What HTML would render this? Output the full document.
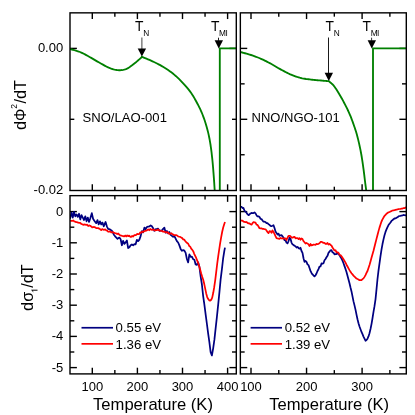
<!DOCTYPE html>
<html><head><meta charset="utf-8"><title>chart</title>
<style>
html,body{margin:0;padding:0;background:#fff;}
svg{display:block;will-change:transform;font-family:"Liberation Sans",sans-serif;fill:#000;}
</style></head><body>
<svg width="415" height="415" viewBox="0 0 415 415">
<rect x="0" y="0" width="415" height="415" fill="#fff"/>
<defs>
<clipPath id="cTL"><rect x="70.0" y="12.85" width="166.3" height="177.65"/></clipPath>
<clipPath id="cTR"><rect x="240.35" y="12.85" width="165.95000000000002" height="177.65"/></clipPath>
<clipPath id="cBL"><rect x="70.0" y="195.65" width="166.3" height="178.24999999999997"/></clipPath>
<clipPath id="cBR"><rect x="240.35" y="195.65" width="165.95000000000002" height="178.24999999999997"/></clipPath>
</defs>
<line x1="92.30" y1="12.85" x2="92.30" y2="19.05" stroke="#000" stroke-width="1.4"/>
<line x1="92.30" y1="190.50" x2="92.30" y2="184.30" stroke="#000" stroke-width="1.4"/>
<line x1="137.40" y1="12.85" x2="137.40" y2="19.05" stroke="#000" stroke-width="1.4"/>
<line x1="137.40" y1="190.50" x2="137.40" y2="184.30" stroke="#000" stroke-width="1.4"/>
<line x1="182.50" y1="12.85" x2="182.50" y2="19.05" stroke="#000" stroke-width="1.4"/>
<line x1="182.50" y1="190.50" x2="182.50" y2="184.30" stroke="#000" stroke-width="1.4"/>
<line x1="227.60" y1="12.85" x2="227.60" y2="19.05" stroke="#000" stroke-width="1.4"/>
<line x1="227.60" y1="190.50" x2="227.60" y2="184.30" stroke="#000" stroke-width="1.4"/>
<line x1="114.85" y1="12.85" x2="114.85" y2="16.65" stroke="#000" stroke-width="1.4"/>
<line x1="114.85" y1="190.50" x2="114.85" y2="186.70" stroke="#000" stroke-width="1.4"/>
<line x1="159.95" y1="12.85" x2="159.95" y2="16.65" stroke="#000" stroke-width="1.4"/>
<line x1="159.95" y1="190.50" x2="159.95" y2="186.70" stroke="#000" stroke-width="1.4"/>
<line x1="205.05" y1="12.85" x2="205.05" y2="16.65" stroke="#000" stroke-width="1.4"/>
<line x1="205.05" y1="190.50" x2="205.05" y2="186.70" stroke="#000" stroke-width="1.4"/>
<line x1="92.30" y1="195.65" x2="92.30" y2="201.85" stroke="#000" stroke-width="1.4"/>
<line x1="92.30" y1="373.90" x2="92.30" y2="367.70" stroke="#000" stroke-width="1.4"/>
<line x1="137.40" y1="195.65" x2="137.40" y2="201.85" stroke="#000" stroke-width="1.4"/>
<line x1="137.40" y1="373.90" x2="137.40" y2="367.70" stroke="#000" stroke-width="1.4"/>
<line x1="182.50" y1="195.65" x2="182.50" y2="201.85" stroke="#000" stroke-width="1.4"/>
<line x1="182.50" y1="373.90" x2="182.50" y2="367.70" stroke="#000" stroke-width="1.4"/>
<line x1="227.60" y1="195.65" x2="227.60" y2="201.85" stroke="#000" stroke-width="1.4"/>
<line x1="227.60" y1="373.90" x2="227.60" y2="367.70" stroke="#000" stroke-width="1.4"/>
<line x1="114.85" y1="195.65" x2="114.85" y2="199.45" stroke="#000" stroke-width="1.4"/>
<line x1="114.85" y1="373.90" x2="114.85" y2="370.10" stroke="#000" stroke-width="1.4"/>
<line x1="159.95" y1="195.65" x2="159.95" y2="199.45" stroke="#000" stroke-width="1.4"/>
<line x1="159.95" y1="373.90" x2="159.95" y2="370.10" stroke="#000" stroke-width="1.4"/>
<line x1="205.05" y1="195.65" x2="205.05" y2="199.45" stroke="#000" stroke-width="1.4"/>
<line x1="205.05" y1="373.90" x2="205.05" y2="370.10" stroke="#000" stroke-width="1.4"/>
<line x1="251.00" y1="12.85" x2="251.00" y2="19.05" stroke="#000" stroke-width="1.4"/>
<line x1="251.00" y1="190.50" x2="251.00" y2="184.30" stroke="#000" stroke-width="1.4"/>
<line x1="306.55" y1="12.85" x2="306.55" y2="19.05" stroke="#000" stroke-width="1.4"/>
<line x1="306.55" y1="190.50" x2="306.55" y2="184.30" stroke="#000" stroke-width="1.4"/>
<line x1="362.10" y1="12.85" x2="362.10" y2="19.05" stroke="#000" stroke-width="1.4"/>
<line x1="362.10" y1="190.50" x2="362.10" y2="184.30" stroke="#000" stroke-width="1.4"/>
<line x1="278.77" y1="12.85" x2="278.77" y2="16.65" stroke="#000" stroke-width="1.4"/>
<line x1="278.77" y1="190.50" x2="278.77" y2="186.70" stroke="#000" stroke-width="1.4"/>
<line x1="334.32" y1="12.85" x2="334.32" y2="16.65" stroke="#000" stroke-width="1.4"/>
<line x1="334.32" y1="190.50" x2="334.32" y2="186.70" stroke="#000" stroke-width="1.4"/>
<line x1="389.88" y1="12.85" x2="389.88" y2="16.65" stroke="#000" stroke-width="1.4"/>
<line x1="389.88" y1="190.50" x2="389.88" y2="186.70" stroke="#000" stroke-width="1.4"/>
<line x1="251.00" y1="195.65" x2="251.00" y2="201.85" stroke="#000" stroke-width="1.4"/>
<line x1="251.00" y1="373.90" x2="251.00" y2="367.70" stroke="#000" stroke-width="1.4"/>
<line x1="306.55" y1="195.65" x2="306.55" y2="201.85" stroke="#000" stroke-width="1.4"/>
<line x1="306.55" y1="373.90" x2="306.55" y2="367.70" stroke="#000" stroke-width="1.4"/>
<line x1="362.10" y1="195.65" x2="362.10" y2="201.85" stroke="#000" stroke-width="1.4"/>
<line x1="362.10" y1="373.90" x2="362.10" y2="367.70" stroke="#000" stroke-width="1.4"/>
<line x1="278.77" y1="195.65" x2="278.77" y2="199.45" stroke="#000" stroke-width="1.4"/>
<line x1="278.77" y1="373.90" x2="278.77" y2="370.10" stroke="#000" stroke-width="1.4"/>
<line x1="334.32" y1="195.65" x2="334.32" y2="199.45" stroke="#000" stroke-width="1.4"/>
<line x1="334.32" y1="373.90" x2="334.32" y2="370.10" stroke="#000" stroke-width="1.4"/>
<line x1="389.88" y1="195.65" x2="389.88" y2="199.45" stroke="#000" stroke-width="1.4"/>
<line x1="389.88" y1="373.90" x2="389.88" y2="370.10" stroke="#000" stroke-width="1.4"/>
<line x1="70.00" y1="48.40" x2="76.90" y2="48.40" stroke="#000" stroke-width="1.4"/>
<line x1="236.30" y1="48.40" x2="229.40" y2="48.40" stroke="#000" stroke-width="1.4"/>
<line x1="70.00" y1="119.30" x2="74.30" y2="119.30" stroke="#000" stroke-width="1.4"/>
<line x1="236.30" y1="119.30" x2="232.00" y2="119.30" stroke="#000" stroke-width="1.4"/>
<line x1="240.35" y1="48.40" x2="247.25" y2="48.40" stroke="#000" stroke-width="1.4"/>
<line x1="406.30" y1="48.40" x2="399.40" y2="48.40" stroke="#000" stroke-width="1.4"/>
<line x1="240.35" y1="119.30" x2="247.25" y2="119.30" stroke="#000" stroke-width="1.4"/>
<line x1="406.30" y1="119.30" x2="399.40" y2="119.30" stroke="#000" stroke-width="1.4"/>
<line x1="240.35" y1="83.85" x2="244.65" y2="83.85" stroke="#000" stroke-width="1.4"/>
<line x1="406.30" y1="83.85" x2="402.00" y2="83.85" stroke="#000" stroke-width="1.4"/>
<line x1="240.35" y1="154.75" x2="244.65" y2="154.75" stroke="#000" stroke-width="1.4"/>
<line x1="406.30" y1="154.75" x2="402.00" y2="154.75" stroke="#000" stroke-width="1.4"/>
<line x1="70.00" y1="211.60" x2="76.90" y2="211.60" stroke="#000" stroke-width="1.4"/>
<line x1="236.30" y1="211.60" x2="229.40" y2="211.60" stroke="#000" stroke-width="1.4"/>
<line x1="70.00" y1="242.80" x2="76.90" y2="242.80" stroke="#000" stroke-width="1.4"/>
<line x1="236.30" y1="242.80" x2="229.40" y2="242.80" stroke="#000" stroke-width="1.4"/>
<line x1="70.00" y1="274.00" x2="76.90" y2="274.00" stroke="#000" stroke-width="1.4"/>
<line x1="236.30" y1="274.00" x2="229.40" y2="274.00" stroke="#000" stroke-width="1.4"/>
<line x1="70.00" y1="305.20" x2="76.90" y2="305.20" stroke="#000" stroke-width="1.4"/>
<line x1="236.30" y1="305.20" x2="229.40" y2="305.20" stroke="#000" stroke-width="1.4"/>
<line x1="70.00" y1="336.40" x2="76.90" y2="336.40" stroke="#000" stroke-width="1.4"/>
<line x1="236.30" y1="336.40" x2="229.40" y2="336.40" stroke="#000" stroke-width="1.4"/>
<line x1="70.00" y1="367.60" x2="76.90" y2="367.60" stroke="#000" stroke-width="1.4"/>
<line x1="236.30" y1="367.60" x2="229.40" y2="367.60" stroke="#000" stroke-width="1.4"/>
<line x1="70.00" y1="227.20" x2="74.30" y2="227.20" stroke="#000" stroke-width="1.4"/>
<line x1="236.30" y1="227.20" x2="232.00" y2="227.20" stroke="#000" stroke-width="1.4"/>
<line x1="70.00" y1="258.40" x2="74.30" y2="258.40" stroke="#000" stroke-width="1.4"/>
<line x1="236.30" y1="258.40" x2="232.00" y2="258.40" stroke="#000" stroke-width="1.4"/>
<line x1="70.00" y1="289.60" x2="74.30" y2="289.60" stroke="#000" stroke-width="1.4"/>
<line x1="236.30" y1="289.60" x2="232.00" y2="289.60" stroke="#000" stroke-width="1.4"/>
<line x1="70.00" y1="320.80" x2="74.30" y2="320.80" stroke="#000" stroke-width="1.4"/>
<line x1="236.30" y1="320.80" x2="232.00" y2="320.80" stroke="#000" stroke-width="1.4"/>
<line x1="70.00" y1="352.00" x2="74.30" y2="352.00" stroke="#000" stroke-width="1.4"/>
<line x1="236.30" y1="352.00" x2="232.00" y2="352.00" stroke="#000" stroke-width="1.4"/>
<line x1="240.35" y1="211.60" x2="247.25" y2="211.60" stroke="#000" stroke-width="1.4"/>
<line x1="406.30" y1="211.60" x2="399.40" y2="211.60" stroke="#000" stroke-width="1.4"/>
<line x1="240.35" y1="242.80" x2="247.25" y2="242.80" stroke="#000" stroke-width="1.4"/>
<line x1="406.30" y1="242.80" x2="399.40" y2="242.80" stroke="#000" stroke-width="1.4"/>
<line x1="240.35" y1="274.00" x2="247.25" y2="274.00" stroke="#000" stroke-width="1.4"/>
<line x1="406.30" y1="274.00" x2="399.40" y2="274.00" stroke="#000" stroke-width="1.4"/>
<line x1="240.35" y1="305.20" x2="247.25" y2="305.20" stroke="#000" stroke-width="1.4"/>
<line x1="406.30" y1="305.20" x2="399.40" y2="305.20" stroke="#000" stroke-width="1.4"/>
<line x1="240.35" y1="336.40" x2="247.25" y2="336.40" stroke="#000" stroke-width="1.4"/>
<line x1="406.30" y1="336.40" x2="399.40" y2="336.40" stroke="#000" stroke-width="1.4"/>
<line x1="240.35" y1="367.60" x2="247.25" y2="367.60" stroke="#000" stroke-width="1.4"/>
<line x1="406.30" y1="367.60" x2="399.40" y2="367.60" stroke="#000" stroke-width="1.4"/>
<line x1="240.35" y1="227.20" x2="244.65" y2="227.20" stroke="#000" stroke-width="1.4"/>
<line x1="406.30" y1="227.20" x2="402.00" y2="227.20" stroke="#000" stroke-width="1.4"/>
<line x1="240.35" y1="258.40" x2="244.65" y2="258.40" stroke="#000" stroke-width="1.4"/>
<line x1="406.30" y1="258.40" x2="402.00" y2="258.40" stroke="#000" stroke-width="1.4"/>
<line x1="240.35" y1="289.60" x2="244.65" y2="289.60" stroke="#000" stroke-width="1.4"/>
<line x1="406.30" y1="289.60" x2="402.00" y2="289.60" stroke="#000" stroke-width="1.4"/>
<line x1="240.35" y1="320.80" x2="244.65" y2="320.80" stroke="#000" stroke-width="1.4"/>
<line x1="406.30" y1="320.80" x2="402.00" y2="320.80" stroke="#000" stroke-width="1.4"/>
<line x1="240.35" y1="352.00" x2="244.65" y2="352.00" stroke="#000" stroke-width="1.4"/>
<line x1="406.30" y1="352.00" x2="402.00" y2="352.00" stroke="#000" stroke-width="1.4"/>
<path d="M70.00,49.00 L70.77,49.22 L71.80,49.49 L73.02,49.81 L74.38,50.18 L75.81,50.58 L77.27,51.02 L78.68,51.50 L80.00,52.00 L81.25,52.54 L82.50,53.13 L83.75,53.76 L85.00,54.42 L86.25,55.11 L87.50,55.81 L88.75,56.51 L90.00,57.20 L91.25,57.90 L92.50,58.62 L93.75,59.36 L95.00,60.10 L96.25,60.84 L97.50,61.58 L98.75,62.30 L100.00,63.00 L101.26,63.70 L102.52,64.42 L103.79,65.13 L105.06,65.84 L106.32,66.51 L107.57,67.14 L108.80,67.71 L110.00,68.20 L111.18,68.63 L112.34,69.01 L113.49,69.34 L114.62,69.62 L115.74,69.85 L116.84,70.03 L117.93,70.14 L119.00,70.20 L120.05,70.20 L121.07,70.15 L122.07,70.04 L123.06,69.88 L124.04,69.65 L125.02,69.37 L126.01,69.02 L127.00,68.60 L128.01,68.09 L129.03,67.49 L130.05,66.81 L131.07,66.07 L132.08,65.31 L133.08,64.52 L134.05,63.75 L135.00,63.00 L135.96,62.23 L136.96,61.39 L137.97,60.52 L138.95,59.65 L139.87,58.83 L140.69,58.09 L141.38,57.47 L141.90,57.00 L141.90,56.90 L142.70,57.22 L143.76,57.64 L145.02,58.13 L146.42,58.68 L147.92,59.29 L149.47,59.94 L151.01,60.61 L152.50,61.30 L153.97,62.01 L155.49,62.75 L157.04,63.52 L158.62,64.33 L160.22,65.17 L161.82,66.07 L163.42,67.01 L165.00,68.00 L166.57,69.03 L168.15,70.10 L169.73,71.20 L171.31,72.36 L172.89,73.56 L174.46,74.84 L176.03,76.18 L177.60,77.60 L179.19,79.13 L180.83,80.78 L182.48,82.52 L184.11,84.31 L185.71,86.13 L187.24,87.94 L188.68,89.70 L190.00,91.40 L191.20,93.04 L192.30,94.67 L193.31,96.28 L194.26,97.88 L195.14,99.44 L195.99,100.99 L196.80,102.51 L197.60,104.00 L198.36,105.44 L199.07,106.81 L199.73,108.14 L200.35,109.45 L200.95,110.77 L201.53,112.12 L202.11,113.52 L202.70,115.00 L203.29,116.55 L203.88,118.16 L204.46,119.81 L205.03,121.49 L205.58,123.20 L206.11,124.92 L206.62,126.66 L207.10,128.40 L207.56,130.14 L207.99,131.88 L208.40,133.64 L208.79,135.41 L209.17,137.21 L209.53,139.04 L209.87,140.90 L210.20,142.80 L210.52,144.75 L210.81,146.76 L211.09,148.80 L211.36,150.88 L211.61,152.96 L211.85,155.05 L212.08,157.14 L212.30,159.20 L212.51,161.26 L212.71,163.34 L212.89,165.42 L213.07,167.51 L213.24,169.57 L213.39,171.62 L213.55,173.63 L213.70,175.60 L213.85,177.57 L213.99,179.58 L214.13,181.59 L214.26,183.56 L214.38,185.45 L214.49,187.23 L214.60,188.86 L214.70,190.30 L214.79,191.57 L214.87,192.69 L214.95,193.69 L215.01,194.57 L215.07,195.33 L215.12,195.98 L215.16,196.54 L215.20,197.00 L215.20,200.00 L219.80,200.00 L219.80,48.30 L236.40,48.30" fill="none" stroke="#008000" stroke-width="1.85" stroke-linejoin="miter" stroke-linecap="butt" clip-path="url(#cTL)"/>
<path d="M240.20,52.00 L241.04,52.23 L242.16,52.52 L243.49,52.87 L244.97,53.26 L246.53,53.68 L248.10,54.12 L249.61,54.57 L251.00,55.00 L252.29,55.43 L253.56,55.87 L254.81,56.31 L256.05,56.77 L257.29,57.25 L258.52,57.75 L259.76,58.26 L261.00,58.80 L262.25,59.36 L263.50,59.95 L264.75,60.55 L266.00,61.18 L267.25,61.81 L268.50,62.47 L269.75,63.13 L271.00,63.80 L272.25,64.49 L273.50,65.21 L274.75,65.95 L276.00,66.70 L277.25,67.45 L278.50,68.19 L279.75,68.91 L281.00,69.60 L282.25,70.27 L283.50,70.94 L284.75,71.60 L286.00,72.25 L287.25,72.88 L288.50,73.48 L289.75,74.06 L291.00,74.60 L292.25,75.11 L293.50,75.60 L294.75,76.07 L296.00,76.51 L297.25,76.93 L298.50,77.31 L299.75,77.67 L301.00,78.00 L302.25,78.29 L303.50,78.54 L304.75,78.76 L306.00,78.96 L307.25,79.13 L308.50,79.29 L309.75,79.45 L311.00,79.60 L312.26,79.75 L313.55,79.88 L314.84,80.00 L316.13,80.11 L317.40,80.21 L318.65,80.31 L319.85,80.40 L321.00,80.50 L322.14,80.60 L323.31,80.71 L324.46,80.81 L325.57,80.91 L326.61,81.00 L327.53,81.08 L328.30,81.15 L328.90,81.20 L328.90,81.20 L329.27,81.53 L329.76,81.94 L330.34,82.43 L330.99,82.99 L331.68,83.61 L332.38,84.27 L333.06,84.97 L333.70,85.70 L334.31,86.47 L334.92,87.30 L335.53,88.18 L336.15,89.11 L336.77,90.06 L337.38,91.03 L337.99,92.02 L338.60,93.00 L339.20,93.97 L339.78,94.94 L340.36,95.92 L340.94,96.91 L341.52,97.95 L342.13,99.03 L342.75,100.17 L343.40,101.40 L344.10,102.72 L344.83,104.14 L345.60,105.62 L346.38,107.16 L347.15,108.71 L347.90,110.27 L348.63,111.81 L349.30,113.30 L349.93,114.76 L350.52,116.21 L351.10,117.65 L351.64,119.08 L352.17,120.51 L352.69,121.94 L353.20,123.37 L353.70,124.80 L354.19,126.20 L354.66,127.55 L355.11,128.88 L355.55,130.22 L355.99,131.59 L356.42,133.03 L356.86,134.56 L357.30,136.20 L357.76,137.98 L358.23,139.87 L358.70,141.86 L359.17,143.91 L359.63,145.99 L360.08,148.09 L360.50,150.16 L360.90,152.20 L361.27,154.22 L361.62,156.27 L361.95,158.34 L362.27,160.39 L362.57,162.43 L362.86,164.44 L363.13,166.40 L363.40,168.30 L363.65,170.16 L363.90,172.02 L364.12,173.85 L364.34,175.64 L364.54,177.36 L364.74,179.01 L364.92,180.56 L365.10,182.00 L365.27,183.31 L365.42,184.49 L365.57,185.58 L365.71,186.59 L365.84,187.54 L365.96,188.46 L366.08,189.38 L366.20,190.30 L366.32,191.26 L366.44,192.24 L366.56,193.22 L366.67,194.17 L366.77,195.05 L366.86,195.83 L366.94,196.49 L367.00,197.00 L367.00,200.00 L373.00,200.00 L373.00,48.30 L406.30,48.30" fill="none" stroke="#008000" stroke-width="1.85" stroke-linejoin="miter" stroke-linecap="butt" clip-path="url(#cTR)"/>
<path d="M70.00,218.80 L71.51,212.53 L72.76,217.54 L74.02,211.90 L75.27,216.29 L76.52,214.41 L77.77,216.92 L79.03,213.78 L80.28,219.42 L81.53,215.04 L82.79,217.54 L84.04,220.05 L85.29,216.29 L86.55,221.30 L87.80,217.54 L89.05,221.93 L90.31,218.17 L91.81,213.16 L93.06,218.80 L94.32,220.68 L96.20,223.18 L97.45,220.05 L98.70,224.44 L99.95,221.30 L101.21,224.44 L102.46,222.56 L103.71,226.32 L105.59,221.93 L106.85,226.32 L108.10,228.82 L109.98,229.45 L111.86,230.70 L113.74,234.46 L115.62,236.97 L117.50,238.85 L119.38,237.59 L120.63,239.27 L121.88,245.26 L123.13,240.81 L124.38,243.84 L125.63,242.44 L126.88,240.50 L128.13,248.08 L129.38,247.28 L130.63,245.25 L131.88,244.50 L133.13,245.30 L134.38,244.10 L135.63,244.28 L136.88,239.85 L138.13,241.18 L139.38,239.65 L140.63,236.13 L141.88,231.15 L143.13,232.32 L144.38,227.63 L145.63,229.06 L146.88,227.05 L148.13,226.57 L149.38,226.47 L150.63,225.37 L151.88,226.29 L153.13,228.18 L154.38,230.83 L155.63,229.22 L156.88,229.15 L158.13,228.55 L159.38,230.86 L160.63,230.61 L161.88,230.59 L163.13,228.87 L164.38,227.65 L165.63,232.71 L166.88,230.87 L168.13,233.26 L169.38,232.05 L170.63,234.86 L171.88,235.86 L173.13,236.82 L174.38,236.03 L175.63,238.57 L176.88,241.09 L178.13,242.50 L179.38,245.39 L180.63,248.91 L181.88,250.88 L183.13,250.09 L184.38,250.63 L185.63,252.83 L186.88,259.03 L188.13,262.40 L189.38,254.43 L190.63,256.91 L191.88,256.71 L193.13,259.22 L194.38,259.72 L195.63,264.50 L196.88,264.95 L198.13,262.19 L199.38,266.69 L200.63,276.48 L201.88,284.26 L203.13,295.83 L204.38,304.54 L205.63,314.40 L206.88,323.75 L208.13,333.31 L209.38,342.02 L210.63,352.12 L211.88,355.47 L213.13,348.56 L214.38,339.92 L215.63,328.39 L216.88,317.17 L218.13,305.19 L219.38,292.55 L220.63,279.40 L221.88,269.42 L223.13,258.48 L224.38,250.56 L225.00,247.68" fill="none" stroke="#000080" stroke-width="1.75" stroke-linejoin="round" stroke-linecap="butt" clip-path="url(#cBL)"/>
<path d="M70.20,221.02 L71.20,220.78 L72.20,220.95 L73.20,220.47 L74.20,221.42 L75.20,221.69 L76.20,222.10 L77.20,222.18 L78.20,222.71 L79.20,222.83 L80.20,222.78 L81.20,223.94 L82.20,224.22 L83.20,224.83 L84.20,224.45 L85.20,224.55 L86.20,224.78 L87.20,224.67 L88.20,225.98 L89.20,225.45 L90.20,225.72 L91.20,226.41 L92.20,227.38 L93.20,227.18 L94.20,226.96 L95.20,227.37 L96.20,228.18 L97.20,228.13 L98.20,228.15 L99.20,228.63 L100.20,229.29 L101.20,230.06 L102.20,229.05 L103.20,229.58 L104.20,229.80 L105.20,229.44 L106.20,230.34 L107.20,230.60 L108.20,231.76 L109.20,231.55 L110.20,231.26 L111.20,232.47 L112.20,232.38 L113.20,232.15 L114.20,232.92 L115.20,233.24 L116.20,233.44 L117.20,234.11 L118.20,233.49 L119.20,234.56 L120.20,235.34 L121.20,235.53 L122.20,235.87 L123.20,236.09 L124.20,236.42 L125.20,235.53 L126.20,236.46 L127.20,235.50 L128.20,236.09 L129.20,235.61 L130.20,236.77 L131.20,236.78 L132.20,235.98 L133.20,236.52 L134.20,235.24 L135.20,235.22 L136.20,234.84 L137.20,233.94 L138.20,234.07 L139.20,234.14 L140.20,232.39 L141.20,232.60 L142.20,231.66 L143.20,231.99 L144.20,231.10 L145.20,230.86 L146.20,230.56 L147.20,230.17 L148.20,229.30 L149.20,230.22 L150.20,228.99 L151.20,229.64 L152.20,229.87 L153.20,229.41 L154.20,229.95 L155.20,230.52 L156.20,230.22 L157.20,230.06 L158.20,229.44 L159.20,230.42 L160.20,230.76 L161.20,230.99 L162.20,231.01 L163.20,231.75 L164.20,231.58 L165.20,231.98 L166.20,232.53 L167.20,232.17 L168.20,232.65 L169.20,233.92 L170.20,233.70 L171.20,233.15 L172.20,233.95 L173.20,234.55 L174.20,235.16 L175.20,235.10 L176.20,235.21 L177.20,235.52 L178.20,236.47 L179.20,236.75 L180.20,236.88 L181.20,237.56 L182.20,238.12 L183.20,239.33 L184.20,239.59 L185.20,240.97 L186.20,242.11 L187.20,243.06 L188.20,243.75 L189.20,245.96 L190.20,246.62 L191.20,248.62 L192.20,249.81 L193.20,251.17 L194.20,253.81 L195.20,255.85 L196.20,257.97 L197.20,260.67 L198.20,263.29 L199.20,266.25 L200.20,269.66 L201.20,273.45 L202.20,276.69 L203.20,279.69 L204.20,283.83 L205.20,288.67 L206.20,293.43 L207.20,297.01 L208.20,299.06 L209.20,300.32 L210.20,300.67 L211.20,299.77 L212.20,297.58 L213.20,293.06 L214.20,287.23 L215.20,280.33 L216.20,272.04 L217.20,263.75 L218.20,256.44 L219.20,249.50 L220.20,242.87 L221.20,237.15 L222.20,231.77 L223.20,227.50 L224.20,224.19 L225.00,221.94" fill="none" stroke="#ff0000" stroke-width="1.75" stroke-linejoin="round" stroke-linecap="butt" clip-path="url(#cBL)"/>
<path d="M240.50,206.75 L241.50,206.84 L242.50,208.02 L243.50,207.99 L244.50,210.79 L245.50,211.74 L246.50,212.68 L247.50,214.19 L248.50,215.18 L249.50,214.47 L250.50,213.46 L251.50,212.89 L252.50,213.10 L253.50,213.01 L254.50,212.46 L255.50,213.33 L256.50,215.17 L257.50,216.47 L258.50,216.36 L259.50,216.90 L260.50,218.93 L261.50,219.02 L262.50,220.49 L263.50,221.68 L264.50,221.73 L265.50,222.04 L266.50,223.21 L267.50,223.21 L268.50,224.27 L269.50,224.84 L270.50,225.83 L271.50,226.11 L272.50,225.77 L273.50,225.25 L274.50,228.05 L275.50,231.44 L276.50,232.89 L277.50,234.54 L278.50,233.57 L279.50,235.83 L280.50,235.32 L281.50,235.12 L282.50,236.32 L283.50,237.66 L284.50,240.14 L285.50,240.47 L286.50,242.62 L287.50,243.44 L288.50,241.25 L289.50,237.73 L290.50,238.77 L291.50,242.59 L292.50,244.35 L293.50,244.97 L294.50,245.68 L295.50,246.26 L296.50,247.57 L297.50,246.95 L298.50,247.95 L299.50,248.70 L300.50,247.78 L301.50,250.98 L302.50,252.83 L303.50,258.24 L304.50,261.88 L305.50,260.97 L306.50,261.85 L307.50,264.39 L308.50,265.12 L309.50,267.92 L310.50,270.90 L311.50,272.92 L312.50,274.49 L313.50,275.49 L314.50,276.35 L315.50,275.35 L316.50,273.53 L317.50,270.96 L318.50,269.14 L319.50,266.63 L320.50,266.48 L321.50,263.42 L322.50,263.75 L323.50,263.20 L324.50,260.28 L325.50,259.05 L326.50,257.26 L327.50,255.86 L328.50,252.82 L329.50,251.71 L330.50,250.34 L331.50,250.21 L332.50,252.50 L333.50,252.72 L334.50,254.35 L335.50,254.11 L336.50,254.02 L337.50,252.62 L338.50,254.37 L339.50,255.10 L340.50,257.02 L341.50,258.50 L342.50,260.60 L343.50,263.27 L344.50,266.12 L345.50,268.90 L346.50,272.06 L347.50,275.74 L348.50,279.50 L349.50,283.18 L350.50,287.53 L351.50,291.42 L352.50,296.37 L353.50,301.41 L354.50,305.37 L355.50,309.67 L356.50,314.67 L357.50,319.29 L358.50,323.18 L359.50,326.50 L360.50,329.26 L361.50,331.95 L362.50,334.20 L363.50,336.59 L364.50,338.53 L365.50,340.75 L366.50,340.04 L367.50,338.64 L368.50,336.44 L369.50,333.21 L370.50,328.99 L371.50,324.12 L372.50,318.27 L373.50,311.78 L374.50,306.16 L375.50,299.32 L376.50,289.33 L377.50,279.02 L378.50,270.66 L379.50,263.49 L380.50,256.16 L381.50,249.71 L382.50,244.03 L383.50,239.36 L384.50,235.21 L385.50,231.92 L386.50,229.42 L387.50,227.14 L388.50,225.06 L389.50,223.76 L390.50,222.48 L391.50,220.91 L392.50,220.09 L393.50,219.25 L394.50,218.49 L395.50,218.46 L396.50,217.83 L397.50,217.28 L398.50,216.37 L399.50,216.00 L400.50,215.94 L401.50,215.55 L402.50,215.45 L403.50,214.98 L404.50,215.18 L405.50,215.31 L406.30,215.06" fill="none" stroke="#000080" stroke-width="1.75" stroke-linejoin="round" stroke-linecap="butt" clip-path="url(#cBR)"/>
<path d="M240.50,220.30 L241.50,220.59 L242.50,220.59 L243.50,221.64 L244.50,221.86 L245.50,222.18 L246.50,221.99 L247.50,222.91 L248.50,223.38 L249.50,223.42 L250.50,224.26 L251.50,224.64 L252.50,223.16 L253.50,222.18 L254.50,222.41 L255.50,222.64 L256.50,224.56 L257.50,224.83 L258.50,226.48 L259.50,228.19 L260.50,228.46 L261.50,228.32 L262.50,228.91 L263.50,228.85 L264.50,229.25 L265.50,229.27 L266.50,230.48 L267.50,232.18 L268.50,233.11 L269.50,231.04 L270.50,231.34 L271.50,232.83 L272.50,230.39 L273.50,231.99 L274.50,233.90 L275.50,236.13 L276.50,238.12 L277.50,238.43 L278.50,238.65 L279.50,238.87 L280.50,237.97 L281.50,238.47 L282.50,238.24 L283.50,238.72 L284.50,238.39 L285.50,238.38 L286.50,239.99 L287.50,237.76 L288.50,235.91 L289.50,235.93 L290.50,236.14 L291.50,237.55 L292.50,237.68 L293.50,237.12 L294.50,236.85 L295.50,238.36 L296.50,238.12 L297.50,238.19 L298.50,239.00 L299.50,238.14 L300.50,239.73 L301.50,238.41 L302.50,238.98 L303.50,241.24 L304.50,242.25 L305.50,243.55 L306.50,242.97 L307.50,243.65 L308.50,244.30 L309.50,246.10 L310.50,244.02 L311.50,245.35 L312.50,245.18 L313.50,244.56 L314.50,244.69 L315.50,244.76 L316.50,243.99 L317.50,244.05 L318.50,243.79 L319.50,243.21 L320.50,241.98 L321.50,241.84 L322.50,242.20 L323.50,242.97 L324.50,242.99 L325.50,243.98 L326.50,243.93 L327.50,242.99 L328.50,244.60 L329.50,243.90 L330.50,244.96 L331.50,245.54 L332.50,247.51 L333.50,249.02 L334.50,250.47 L335.50,250.23 L336.50,252.48 L337.50,252.35 L338.50,252.88 L339.50,254.77 L340.50,255.19 L341.50,256.37 L342.50,257.75 L343.50,259.28 L344.50,260.90 L345.50,262.69 L346.50,264.71 L347.50,266.54 L348.50,268.35 L349.50,270.14 L350.50,271.84 L351.50,273.27 L352.50,274.44 L353.50,275.63 L354.50,276.68 L355.50,277.52 L356.50,278.52 L357.50,279.07 L358.50,279.56 L359.50,280.23 L360.50,280.13 L361.50,280.11 L362.50,279.18 L363.50,278.38 L364.50,276.87 L365.50,275.16 L366.50,272.97 L367.50,270.99 L368.50,268.00 L369.50,265.00 L370.50,261.40 L371.50,257.81 L372.50,254.29 L373.50,250.83 L374.50,246.75 L375.50,242.76 L376.50,238.85 L377.50,234.98 L378.50,231.12 L379.50,227.63 L380.50,224.53 L381.50,221.50 L382.50,219.41 L383.50,217.56 L384.50,215.96 L385.50,214.87 L386.50,213.70 L387.50,212.98 L388.50,212.32 L389.50,211.96 L390.50,211.42 L391.50,211.10 L392.50,210.52 L393.50,210.27 L394.50,210.07 L395.50,209.81 L396.50,209.54 L397.50,209.33 L398.50,209.02 L399.50,209.00 L400.50,208.89 L401.50,208.70 L402.50,208.54 L403.50,208.19 L404.50,208.06 L405.50,207.69 L406.30,207.42" fill="none" stroke="#ff0000" stroke-width="1.75" stroke-linejoin="round" stroke-linecap="butt" clip-path="url(#cBR)"/>
<rect x="70.00" y="12.85" width="166.30" height="177.65" fill="none" stroke="#000" stroke-width="1.4"/>
<rect x="240.35" y="12.85" width="165.95" height="177.65" fill="none" stroke="#000" stroke-width="1.4"/>
<rect x="70.00" y="195.65" width="166.30" height="178.25" fill="none" stroke="#000" stroke-width="1.4"/>
<rect x="240.35" y="195.65" width="165.95" height="178.25" fill="none" stroke="#000" stroke-width="1.4"/>
<line x1="141.90" y1="37.50" x2="141.90" y2="49.00" stroke="#000" stroke-width="0.75"/>
<polygon points="137.70,48.50 146.10,48.50 141.90,56.60" fill="#000"/>
<line x1="218.50" y1="37.70" x2="218.50" y2="40.80" stroke="#000" stroke-width="0.9"/>
<polygon points="214.60,40.30 223.00,40.30 218.80,48.40" fill="#000"/>
<line x1="328.50" y1="37.50" x2="328.50" y2="73.30" stroke="#000" stroke-width="0.9"/>
<polygon points="324.60,72.80 333.00,72.80 328.80,80.90" fill="#000"/>
<line x1="371.60" y1="37.70" x2="371.60" y2="40.80" stroke="#000" stroke-width="0.8"/>
<polygon points="367.60,40.30 376.00,40.30 371.80,48.40" fill="#000"/>
<text x="135.00" y="30.80" font-size="13.8" text-anchor="start" >T</text>
<text x="143.20" y="35.50" font-size="8.3" text-anchor="start" >N</text>
<text x="210.90" y="30.80" font-size="13.8" text-anchor="start" >T</text>
<text x="219.10" y="35.50" font-size="8.3" text-anchor="start" letter-spacing="-0.6">MI</text>
<text x="325.60" y="30.80" font-size="13.8" text-anchor="start" >T</text>
<text x="333.80" y="35.50" font-size="8.3" text-anchor="start" >N</text>
<text x="362.60" y="30.80" font-size="13.8" text-anchor="start" >T</text>
<text x="370.80" y="35.50" font-size="8.3" text-anchor="start" letter-spacing="-0.6">MI</text>
<text x="63.20" y="52.40" font-size="13.0" text-anchor="end" >0.00</text>
<text x="63.20" y="194.10" font-size="13.0" text-anchor="end" >-0.02</text>
<text x="63.20" y="215.60" font-size="13.0" text-anchor="end" >0</text>
<text x="63.20" y="246.80" font-size="13.0" text-anchor="end" >-1</text>
<text x="63.20" y="278.00" font-size="13.0" text-anchor="end" >-2</text>
<text x="63.20" y="309.20" font-size="13.0" text-anchor="end" >-3</text>
<text x="63.20" y="340.40" font-size="13.0" text-anchor="end" >-4</text>
<text x="63.20" y="371.60" font-size="13.0" text-anchor="end" >-5</text>
<text x="92.30" y="390.90" font-size="13.0" text-anchor="middle" >100</text>
<text x="137.40" y="390.90" font-size="13.0" text-anchor="middle" >200</text>
<text x="182.50" y="390.90" font-size="13.0" text-anchor="middle" >300</text>
<text x="227.60" y="390.90" font-size="13.0" text-anchor="middle" >400</text>
<text x="251.00" y="390.90" font-size="13.0" text-anchor="middle" >100</text>
<text x="306.55" y="390.90" font-size="13.0" text-anchor="middle" >200</text>
<text x="362.10" y="390.90" font-size="13.0" text-anchor="middle" >300</text>
<text x="153.00" y="410.00" font-size="16.6" text-anchor="middle" >Temperature (K)</text>
<text x="329.10" y="410.00" font-size="16.6" text-anchor="middle" >Temperature (K)</text>
<text x="82.50" y="122.00" font-size="13.1" text-anchor="start" >SNO/LAO-001</text>
<text x="251.50" y="121.90" font-size="13.0" text-anchor="start" >NNO/NGO-101</text>
<line x1="81.50" y1="327.75" x2="113.00" y2="327.75" stroke="#000080" stroke-width="1.7"/>
<line x1="81.50" y1="343.85" x2="113.00" y2="343.85" stroke="#ff0000" stroke-width="1.7"/>
<text x="115.60" y="332.20" font-size="13.2" text-anchor="start" >0.55 eV</text>
<text x="115.60" y="348.50" font-size="13.2" text-anchor="start" >1.36 eV</text>
<line x1="250.60" y1="327.75" x2="282.00" y2="327.75" stroke="#000080" stroke-width="1.7"/>
<line x1="250.60" y1="343.85" x2="282.00" y2="343.85" stroke="#ff0000" stroke-width="1.7"/>
<text x="284.70" y="332.20" font-size="13.2" text-anchor="start" >0.52 eV</text>
<text x="284.70" y="348.50" font-size="13.2" text-anchor="start" >1.39 eV</text>
<g transform="translate(25.7,129.95) rotate(-90)" font-size="16.2"><text x="0" y="0">d</text><text x="9.0" y="0" textLength="12.3" lengthAdjust="spacingAndGlyphs">Φ</text><text x="21.3" y="-9.1" font-size="8.5">2</text><text x="26.4" y="0">/dT</text></g>
<g transform="translate(33.1,310.9) rotate(-90)" font-size="16.3"><text x="0" y="0">dσ</text><path d="M20.7,4.4 L20.7,-1.4 L19.2,0.2" fill="none" stroke="#000" stroke-width="1.0" stroke-linejoin="miter"/><text x="23.1" y="0">/dT</text></g>
</svg>
</body></html>
